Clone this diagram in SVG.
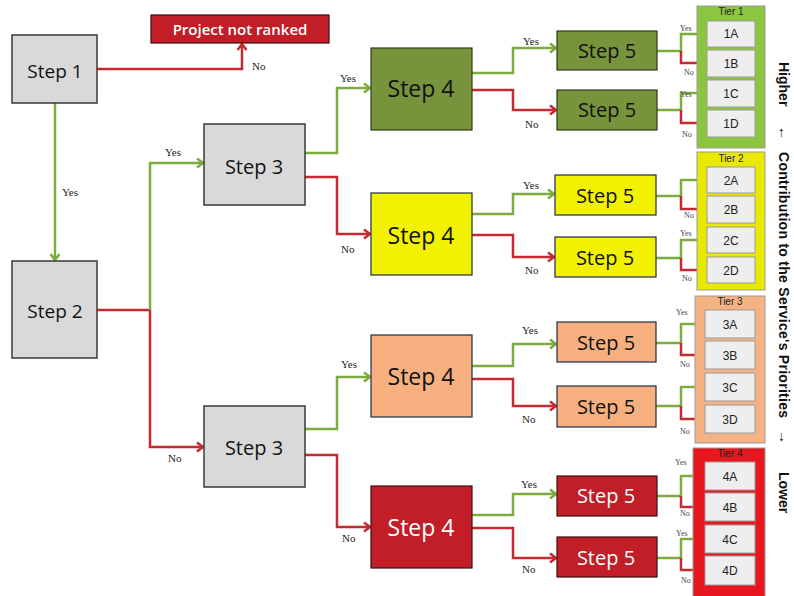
<svg xmlns="http://www.w3.org/2000/svg" width="794" height="596" viewBox="0 0 794 596">
<style>
.g{fill:none;stroke:#7cab3e;stroke-width:2.5}
.r{fill:none;stroke:#c42a30;stroke-width:2.5}
.ga{marker-end:url(#ag)}
.ra{marker-end:url(#ar)}
.gray{fill:#d9d9d9;stroke:#3a3a3a;stroke-width:1.5}
.s4g{fill:#77933c;stroke:#2e3b1a;stroke-width:1.2}
.s4y{fill:#f2f200;stroke:#1f2a4a;stroke-width:1.2}
.s4o{fill:#f6b07f;stroke:#1f2a4a;stroke-width:1.2}
.s4r{fill:#c11e28;stroke:#3a1010;stroke-width:1.2}
.cell{fill:#eeeeee;stroke:#9a9a9a;stroke-width:1}
.st{font-family:"Open Sans","Liberation Sans",sans-serif;text-anchor:middle;fill:#111}
.w{fill:#ffffff}
.lbl{font-family:"Liberation Serif",serif;font-size:11px;fill:#222}
.sm{font-family:"Liberation Serif",serif;font-size:8px;fill:#444}
.ct{font-family:"Liberation Sans",sans-serif;font-size:12px;text-anchor:middle;fill:#222}
.tt{font-family:"Liberation Sans",sans-serif;font-size:10px;text-anchor:middle;fill:#222}
.side{font-family:"Liberation Sans",sans-serif;font-size:14px;font-weight:bold;fill:#111}
</style>
<defs>
<marker id="ag" markerUnits="userSpaceOnUse" markerWidth="12" markerHeight="12" refX="9" refY="6" orient="auto">
<polyline points="3,1.5 9,6 3,10.5" fill="none" stroke="#7cab3e" stroke-width="2.5"/>
</marker>
<marker id="ar" markerUnits="userSpaceOnUse" markerWidth="12" markerHeight="12" refX="9" refY="6" orient="auto">
<polyline points="3,1.5 9,6 3,10.5" fill="none" stroke="#c42a30" stroke-width="2.5"/>
</marker>
</defs>
<rect width="794" height="596" fill="#ffffff"/>

<g id="connectors">
<polyline class="r ra" points="97,69 242,69 242,44"/>
<polyline class="g ga" points="55,103 55,260"/>
<polyline class="r" points="97,310 150,310"/>
<polyline class="g ga" points="150,310 150,163 203,163"/>
<polyline class="r ra" points="150,310 150,447 203,447"/>

<polyline class="g ga" points="305,153 337,153 337,88 370,88"/>
<polyline class="r ra" points="305,177 337,177 337,234 370,234"/>
<polyline class="g ga" points="305,429 337,429 337,377 370,377"/>
<polyline class="r ra" points="305,455 337,455 337,527 370,527"/>

<polyline class="g ga" points="472,73 513,73 513,48 556,48"/>
<polyline class="r ra" points="472,90 513,90 513,110 556,110"/>
<polyline class="g ga" points="472,214 513,214 513,194 554,194"/>
<polyline class="r ra" points="472,235 513,235 513,257 554,257"/>
<polyline class="g ga" points="472,366 513,366 513,344 556,344"/>
<polyline class="r ra" points="472,379 513,379 513,406 556,406"/>
<polyline class="g ga" points="472,515 513,515 513,494 556,494"/>
<polyline class="r ra" points="472,528 513,528 513,558 556,558"/>

<polyline class="g ga" points="657,51 681,51 681,34 706,34"/>
<polyline class="r ra" points="681,51 681,63 706,63"/>
<polyline class="g ga" points="657,110 681,110 681,93 706,93"/>
<polyline class="r ra" points="681,110 681,123 706,123"/>
<polyline class="g ga" points="656,196 681,196 681,180 706,180"/>
<polyline class="r ra" points="681,196 681,209 706,209"/>
<polyline class="g ga" points="656,258 681,258 681,240 706,240"/>
<polyline class="r ra" points="681,258 681,270 706,270"/>
<polyline class="g ga" points="656,343 681,343 681,324 704,324"/>
<polyline class="r ra" points="681,343 681,355 704,355"/>
<polyline class="g ga" points="656,406 681,406 681,387 704,387"/>
<polyline class="r ra" points="681,406 681,419 704,419"/>
<polyline class="g ga" points="657,496 681,496 681,476 704,476"/>
<polyline class="r ra" points="681,496 681,507 704,507"/>
<polyline class="g ga" points="657,558 681,558 681,539 704,539"/>
<polyline class="r ra" points="681,558 681,570 704,570"/>

<text class="lbl" x="252" y="70">No</text>
<text class="lbl" x="62" y="196">Yes</text>
<text class="lbl" x="165" y="156">Yes</text>
<text class="lbl" x="168" y="462">No</text>
<text class="lbl" x="340" y="82">Yes</text>
<text class="lbl" x="341" y="253">No</text>
<text class="lbl" x="341" y="368">Yes</text>
<text class="lbl" x="342" y="542">No</text>
<text class="lbl" x="523" y="45">Yes</text>
<text class="lbl" x="525" y="128">No</text>
<text class="lbl" x="523" y="189">Yes</text>
<text class="lbl" x="525" y="274">No</text>
<text class="lbl" x="522" y="334">Yes</text>
<text class="lbl" x="522" y="423">No</text>
<text class="lbl" x="521" y="488">Yes</text>
<text class="lbl" x="522" y="573">No</text>

<text class="sm" x="680" y="31">Yes</text>
<text class="sm" x="684" y="75">No</text>
<text class="sm" x="680" y="97">Yes</text>
<text class="sm" x="682" y="137">No</text>
<text class="sm" x="684" y="218">No</text>
<text class="sm" x="680" y="236">Yes</text>
<text class="sm" x="682" y="281">No</text>
<text class="sm" x="676" y="315">Yes</text>
<text class="sm" x="680" y="367">No</text>
<text class="sm" x="680" y="434">No</text>
<text class="sm" x="675" y="465">Yes</text>
<text class="sm" x="680" y="516">No</text>
<text class="sm" x="676" y="536">Yes</text>
<text class="sm" x="681" y="583">No</text>
</g>

<g id="not-ranked">
<rect x="151" y="15" width="178" height="28" fill="#c11e28" stroke="#3a1010" stroke-width="1.2"/>
<text class="st w" x="240" y="35" font-size="15" font-weight="600">Project not ranked</text>
</g>
<g id="step1">
<rect class="gray" x="12" y="35" width="85" height="68"/>
<text class="st" x="55" y="78" font-size="19">Step 1</text>
</g>
<g id="step2">
<rect class="gray" x="12" y="261" width="85" height="97"/>
<text class="st" x="55" y="318" font-size="19">Step 2</text>
</g>
<g id="step3-top">
<rect class="gray" x="204" y="124" width="101" height="81"/>
<text class="st" x="254" y="174" font-size="20">Step 3</text>
</g>
<g id="step3-bottom">
<rect class="gray" x="204" y="406" width="101" height="81"/>
<text class="st" x="254" y="455" font-size="20">Step 3</text>
</g>

<g id="step4-green">
<rect class="s4g" x="371" y="48" width="101" height="82"/>
<text class="st" x="421" y="97" font-size="23">Step 4</text>
</g>
<g id="step4-yellow">
<rect class="s4y" x="371" y="193" width="101" height="82"/>
<text class="st" x="421" y="244" font-size="23">Step 4</text>
</g>
<g id="step4-orange">
<rect class="s4o" x="371" y="335" width="101" height="82"/>
<text class="st" x="421" y="385" font-size="23">Step 4</text>
</g>
<g id="step4-red">
<rect class="s4r" x="371" y="486" width="101" height="82"/>
<text class="st w" x="421" y="536" font-size="23">Step 4</text>
</g>

<g id="step5-g1"><rect class="s4g" x="557" y="31" width="100" height="39"/><text class="st" x="607" y="58" font-size="20">Step 5</text></g>
<g id="step5-g2"><rect class="s4g" x="557" y="90" width="100" height="40"/><text class="st" x="607" y="117" font-size="20">Step 5</text></g>
<g id="step5-y1"><rect class="s4y" x="555" y="175" width="101" height="40"/><text class="st" x="605" y="203" font-size="20">Step 5</text></g>
<g id="step5-y2"><rect class="s4y" x="555" y="237" width="101" height="40"/><text class="st" x="605" y="265" font-size="20">Step 5</text></g>
<g id="step5-o1"><rect class="s4o" x="557" y="322" width="99" height="40"/><text class="st" x="606" y="350" font-size="20">Step 5</text></g>
<g id="step5-o2"><rect class="s4o" x="557" y="386" width="99" height="41"/><text class="st" x="606" y="414" font-size="20">Step 5</text></g>
<g id="step5-r1"><rect class="s4r" x="557" y="476" width="100" height="40"/><text class="st w" x="606" y="503" font-size="20">Step 5</text></g>
<g id="step5-r2"><rect class="s4r" x="557" y="537" width="100" height="40"/><text class="st w" x="606" y="565" font-size="20">Step 5</text></g>

<g id="tier1">
<rect x="697" y="6" width="68" height="142" fill="#8cc63e" stroke="#9a9a9a" stroke-width="1"/>
<text class="tt" x="731" y="15">Tier 1</text>
<rect class="cell" x="707" y="21" width="48" height="26"/><text class="ct" x="731" y="38">1A</text>
<rect class="cell" x="707" y="50" width="48" height="27"/><text class="ct" x="731" y="68">1B</text>
<rect class="cell" x="707" y="80" width="48" height="27"/><text class="ct" x="731" y="98">1C</text>
<rect class="cell" x="707" y="110" width="48" height="27"/><text class="ct" x="731" y="128">1D</text>
</g>
<g id="tier2">
<rect x="697" y="152" width="68" height="138" fill="#e8e800" stroke="#9a9a9a" stroke-width="1"/>
<text class="tt" x="731" y="162">Tier 2</text>
<rect class="cell" x="707" y="167" width="48" height="26"/><text class="ct" x="731" y="185">2A</text>
<rect class="cell" x="707" y="196" width="48" height="27"/><text class="ct" x="731" y="214">2B</text>
<rect class="cell" x="707" y="227" width="48" height="26"/><text class="ct" x="731" y="245">2C</text>
<rect class="cell" x="707" y="257" width="48" height="26"/><text class="ct" x="731" y="275">2D</text>
</g>
<g id="tier3">
<rect x="695" y="296" width="70" height="147" fill="#f5b283" stroke="#9a9a9a" stroke-width="1"/>
<text class="tt" x="730" y="305">Tier 3</text>
<rect class="cell" x="705" y="310" width="50" height="28"/><text class="ct" x="730" y="329">3A</text>
<rect class="cell" x="705" y="341" width="50" height="28"/><text class="ct" x="730" y="360">3B</text>
<rect class="cell" x="705" y="373" width="50" height="28"/><text class="ct" x="730" y="392">3C</text>
<rect class="cell" x="705" y="405" width="50" height="28"/><text class="ct" x="730" y="424">3D</text>
</g>
<g id="tier4">
<rect x="693" y="448" width="72" height="150" fill="#e8161e" stroke="#9a9a9a" stroke-width="1"/>
<text class="tt" x="730" y="457">Tier 4</text>
<rect class="cell" x="705" y="462" width="50" height="28"/><text class="ct" x="730" y="481">4A</text>
<rect class="cell" x="705" y="493" width="50" height="28"/><text class="ct" x="730" y="512">4B</text>
<rect class="cell" x="705" y="525" width="50" height="28"/><text class="ct" x="730" y="544">4C</text>
<rect class="cell" x="705" y="556" width="50" height="29"/><text class="ct" x="730" y="575">4D</text>
</g>

<g id="side-axis">
<text class="side" transform="translate(779,62) rotate(90)">Higher</text>
<text class="side" font-size="16" transform="translate(779,126) rotate(90)">←</text>
<text class="side" transform="translate(779,152) rotate(90)" textLength="266">Contribution to the Service's Priorities</text>
<text class="side" font-size="16" transform="translate(779,430) rotate(90)">→</text>
<text class="side" transform="translate(779,472) rotate(90)">Lower</text>
</g>
</svg>
